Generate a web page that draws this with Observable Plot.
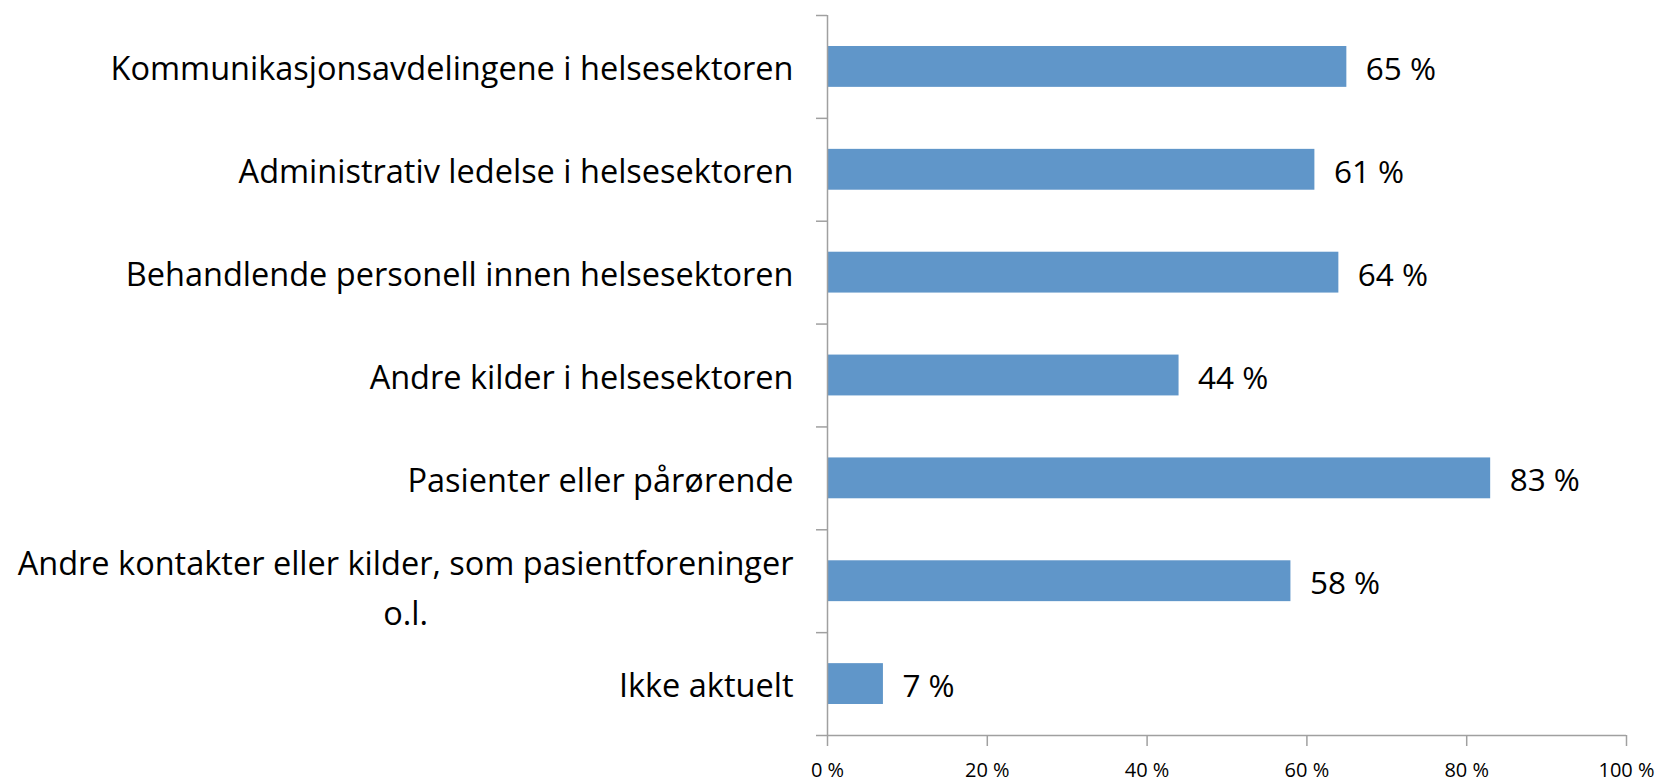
<!DOCTYPE html>
<html>
<head>
<meta charset="utf-8">
<script src="https://cdn.jsdelivr.net/npm/d3@7"></script>
<script src="https://cdn.jsdelivr.net/npm/@observablehq/plot@0.6"></script>
<style>
  html, body { margin: 0; padding: 0; background: #fff; }
  #chart svg { display: block; }
</style>
</head>
<body>
<div id="chart"></div>
<script>
const categories = [
  "Kommunikasjonsavdelingene i helsesektoren",
  "Administrativ ledelse i helsesektoren",
  "Behandlende personell innen helsesektoren",
  "Andre kilder i helsesektoren",
  "Pasienter eller pårørende",
  "Andre kontakter eller kilder, som pasientforeninger\no.l.",
  "Ikke aktuelt"
];
const values = [65, 61, 64, 44, 83, 58, 7];
const xTicks = [0, 20, 40, 60, 80, 100];

const FONT_NAME = "Open Sans";
const FONT = "'Open Sans', Lato, sans-serif";
const LABEL_SIZE = 32.5;
const VALUE_SIZE = 31.5;
const AXIS_GAP = 34;

const data = categories.map((c, i) => ({category: c, value: values[i], i}));
const single = data.filter(d => !d.category.includes("\n"));
const multi = data.filter(d => d.category.includes("\n"));

const ctx = document.createElement("canvas").getContext("2d");
ctx.font = `${LABEL_SIZE}px '${FONT_NAME}'`;
const lineWidth = s => d3.max(s.split("\n"), l => ctx.measureText(l).width);

const chart = Plot.plot({
  width: 1662,
  height: 782,
  marginLeft: 827,
  marginRight: 36,
  marginTop: 15,
  marginBottom: 47,
  style: {fontFamily: FONT, background: "#fff"},
  x: {domain: [0, 100], axis: null, label: null},
  y: {domain: [0, categories.length], reverse: true, axis: null, label: null},
  marks: [
    Plot.rectX(data, {x1: 0, x2: "value", y1: "i", y2: d => d.i + 1, insetTop: 31, insetBottom: 31, fill: "#6096c9"}),
    Plot.ruleX([0], {stroke: "#a0a0a0", strokeWidth: 1.5}),
    Plot.ruleY([categories.length], {stroke: "#a0a0a0", strokeWidth: 1.5}),
    Plot.axisY(d3.range(categories.length + 1), {tickSize: 11, tickFormat: () => "", label: null, stroke: "#a0a0a0", strokeWidth: 1.5}),
    Plot.axisX(xTicks, {tickSize: 11, tickPadding: 16, tickFormat: d => `${d} %`, label: null, fontSize: 20, stroke: "#a0a0a0", strokeWidth: 1.5, fill: "#000"}),
    Plot.text(single, {x: 0, y: d => d.i + 0.5, text: "category", textAnchor: "end", dx: -AXIS_GAP, dy: 3, fontSize: LABEL_SIZE, fill: "#000"}),
    Plot.text(multi, {x: 0, y: d => d.i + 0.5, text: "category", textAnchor: "middle", dx: -AXIS_GAP - lineWidth(multi[0].category) / 2, dy: 3, lineHeight: 1.52, fontSize: LABEL_SIZE, fill: "#000"}),
    Plot.text(data, {x: "value", y: d => d.i + 0.5, text: d => `${d.value} %`, textAnchor: "start", dx: 19, dy: 3, fontSize: VALUE_SIZE, fill: "#000"})
  ]
});
document.getElementById("chart").appendChild(chart);
</script>
</body>
</html>
